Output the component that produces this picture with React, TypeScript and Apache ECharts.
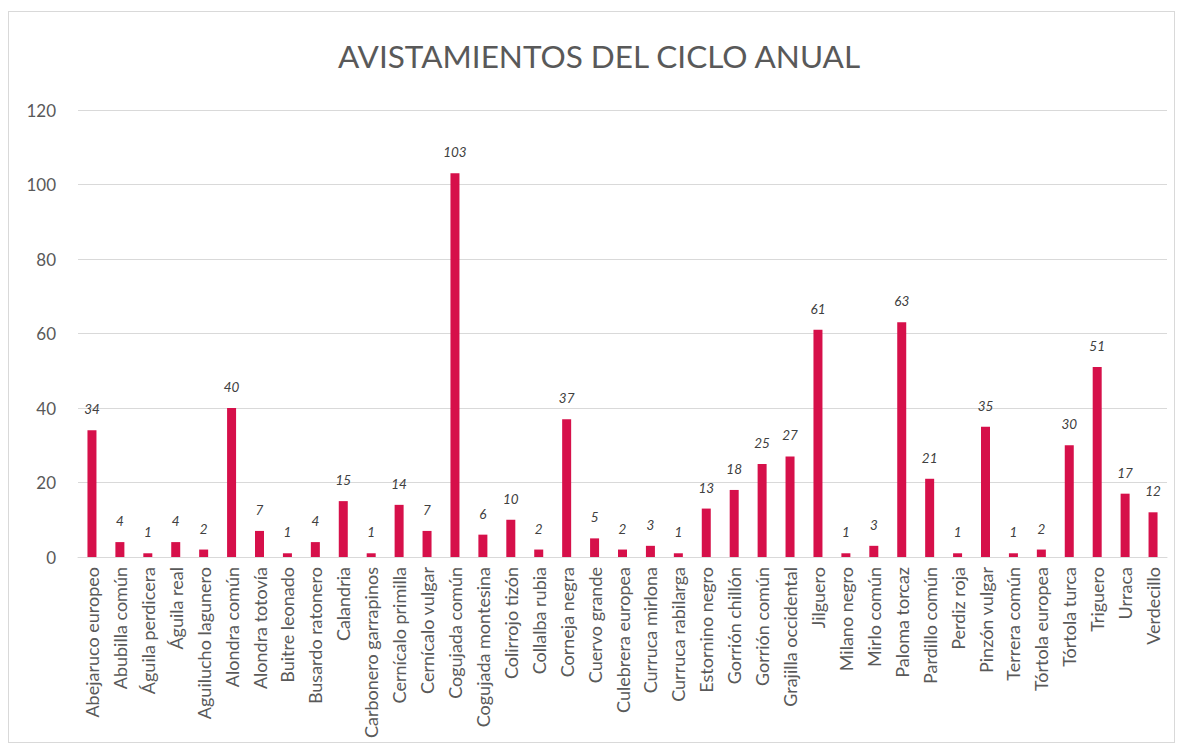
import React, { useEffect, useRef } from "react";
import * as echarts from "echarts";

const categories: string[] = [
  "Abejaruco europeo", "Abubilla común", "Águila perdicera", "Águila real", "Aguilucho lagunero",
  "Alondra común", "Alondra totovía", "Buitre leonado", "Busardo ratonero", "Calandria",
  "Carbonero garrapinos", "Cernícalo primilla", "Cernícalo vulgar", "Cogujada común", "Cogujada montesina",
  "Colirrojo tizón", "Collalba rubia", "Corneja negra", "Cuervo grande", "Culebrera europea",
  "Curruca mirlona", "Curruca rabilarga", "Estornino negro", "Gorrión chillón", "Gorrión común",
  "Grajilla occidental", "Jilguero", "Milano negro", "Mirlo común", "Paloma torcaz",
  "Pardillo común", "Perdiz roja", "Pinzón vulgar", "Terrera común", "Tórtola europea",
  "Tórtola turca", "Triguero", "Urraca", "Verdecillo",
];

const avistamientos: number[] = [
  34, 4, 1, 4, 2,
  40, 7, 1, 4, 15,
  1, 14, 7, 103, 6,
  10, 2, 37, 5, 2,
  3, 1, 13, 18, 25,
  27, 61, 1, 3, 63,
  21, 1, 35, 1, 2,
  30, 51, 17, 12,
];

const yTicks = { min: 0, max: 120, interval: 20 };
const titleText = "AVISTAMIENTOS DEL CICLO ANUAL";
const FONT = "Lato, 'Open Sans', sans-serif";

export default function App() {
  const ref = useRef<HTMLDivElement>(null);
  useEffect(() => {
    if (!ref.current) return;
    const chart = echarts.init(ref.current, undefined, { renderer: "svg" });
    chart.setOption({
      animation: false,
      backgroundColor: "#ffffff",
      textStyle: { fontFamily: FONT },
      title: {
        text: titleText,
        left: 329,
        top: 28,
        padding: 0,
        textStyle: { fontFamily: FONT, fontSize: 31.5, fontWeight: "normal", color: "#595959" },
      },
      grid: { left: 69, right: 7, top: 98, bottom: 185, containLabel: false },
      xAxis: {
        type: "category",
        data: categories,
        axisLine: { lineStyle: { color: "#d9d9d9", width: 1 } },
        axisTick: { show: false },
        axisLabel: {
          rotate: 90,
          interval: 0,
          margin: 10,
          color: "#595959",
          fontSize: 18,
          fontFamily: FONT,
        },
      },
      yAxis: {
        type: "value",
        min: yTicks.min,
        max: yTicks.max,
        interval: yTicks.interval,
        axisLine: { show: false },
        axisTick: { show: false },
        splitLine: { lineStyle: { color: "#d9d9d9", width: 1 } },
        axisLabel: { color: "#595959", fontSize: 17, margin: 22, fontFamily: FONT },
      },
      series: [
        {
          type: "bar",
          data: avistamientos,
          barWidth: 9,
          itemStyle: { color: "#D6104A" },
          label: {
            show: true,
            position: "top",
            distance: 14,
            fontStyle: "italic",
            fontSize: 13.5,
            color: "#404040",
            fontFamily: FONT,
          },
        },
      ],
    });
    return () => chart.dispose();
  }, []);
  return (
    <div
      style={{
        marginTop: 3,
        width: 1167,
        height: 732,
        border: "1px solid #d9d9d9",
        boxSizing: "border-box",
        background: "#fff",
      }}
    >
      <div ref={ref} style={{ width: 1165, height: 730 }} />
    </div>
  );
}
